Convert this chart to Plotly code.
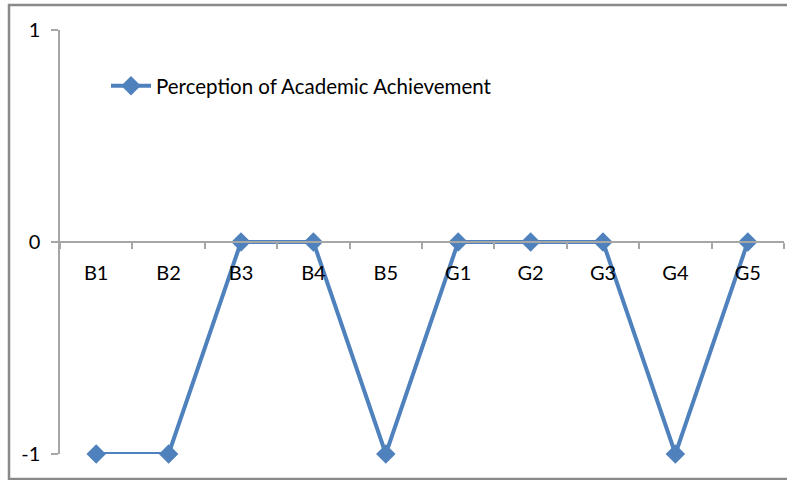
import plotly.graph_objects as go

categories = ["B1", "B2", "B3", "B4", "B5", "G1", "G2", "G3", "G4", "G5"]
values = [-1, -1, 0, 0, -1, 0, 0, 0, -1, 0]
series_name = "Perception of Academic Achievement"
y_ticks = [-1, 0, 1]

FONT = "Lato"
FS = 20
AX = "#A6A6A6"
BLUE = "#4F81BD"

fig = go.Figure()
fig.add_trace(go.Scatter(
    x=categories, y=values, mode="lines+markers", name=series_name,
    line=dict(color=BLUE, width=4),
    marker=dict(symbol="diamond", size=15, color=BLUE),
    cliponaxis=False,
))

W, H = 787, 480
L, R, T, B = 60, 3, 30, 26
pw, ph = W - L - R, H - T - B

def px(x):
    return (x - L) / pw

def py(y):
    return (H - B - y) / ph

fig.update_layout(
    width=W, height=H,
    margin=dict(l=L, r=R, t=T, b=B),
    paper_bgcolor="white", plot_bgcolor="white",
    font=dict(family=FONT, size=FS, color="#000000"),
    showlegend=True,
    legend=dict(x=px(106), y=py(86), xanchor="left", yanchor="middle",
                bgcolor="rgba(0,0,0,0)", borderwidth=0,
                font=dict(family=FONT, size=20.5, color="#000000"),
                itemwidth=40),
    xaxis=dict(type="category", range=[-0.5, 9.5], anchor="free", position=0.5,
               showline=True, linecolor=AX, linewidth=1.5,
               ticks="outside", tickson="boundaries", ticklen=6, tickcolor=AX, tickwidth=1.5,
               showgrid=False, zeroline=False, ticklabelstandoff=13,
               tickfont=dict(family=FONT, size=FS)),
    yaxis=dict(range=[-1, 1], tickvals=y_ticks, ticktext=[str(v) for v in y_ticks],
               showline=True, linecolor=AX, linewidth=1.5,
               ticks="outside", ticklen=7, tickcolor=AX, tickwidth=1.5,
               showgrid=True, gridcolor=AX, gridwidth=1.5, zeroline=False,
               ticklabelstandoff=7, tickfont=dict(family=FONT, size=FS)),
    shapes=[dict(type="rect", xref="paper", yref="paper",
                 x0=px(9), x1=px(790), y0=py(479), y1=py(5),
                 line=dict(color="#898989", width=2.5), layer="below")],
)

fig.write_html("out.html")
